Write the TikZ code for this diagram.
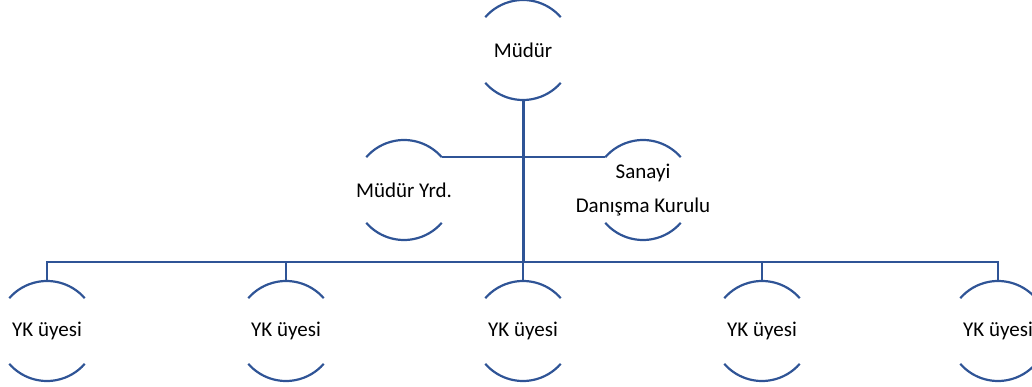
\documentclass[tikz,border=0pt]{standalone}
\usepackage{fontspec}
\setmainfont{Carlito}
\definecolor{orgblue}{RGB}{47,84,150}
\begin{document}
\begin{tikzpicture}[x=1pt,y=1pt,
  unit/.style={inner sep=0pt,outer sep=0pt,align=center,
    font=\fontsize{21}{34}\selectfont,text=black},
  link/.style={draw=orgblue,line width=2.2pt},
  trunk/.style={draw=orgblue,line width=3pt}]
\useasboundingbox[clip] (0,0) rectangle (1032,-387);
\node[unit] (m) at (523,-50) {Müdür};
\node[unit] (yrd) at (404,-190) {Müdür Yrd.};
\node[unit] (san) at (643,-190) {Sanayi\\Danışma Kurulu};
\node[unit] (k1) at (47,-331) {YK üyesi};
\node[unit] (k2) at (286,-331) {YK üyesi};
\node[unit] (k3) at (523,-331) {YK üyesi};
\node[unit] (k4) at (762,-331) {YK üyesi};
\node[unit] (k5) at (998,-331) {YK üyesi};
\foreach \n in {m,yrd,san,k1,k2,k3,k4,k5}{
  \draw[link] ([shift={(41:50)}]\n.center) arc[start angle=41,end angle=139,radius=50];
  \draw[link] ([shift={(221:50)}]\n.center) arc[start angle=221,end angle=319,radius=50];
  \coordinate (\n-top) at ([yshift=50]\n.center);
  \coordinate (\n-bot) at ([yshift=-50]\n.center);
}
\coordinate (bus) at (523,-262);
\draw[link] ([shift={(41:50)}]yrd.center) -- ([shift={(139:50)}]san.center);
\draw[link] (k1-top) |- (bus) -| (k5-top);
\foreach \n in {k2,k3,k4}{\draw[link] (\n-top) -- (\n-top |- bus);}
\draw[trunk] (m-bot) -- (m-bot |- bus);
\end{tikzpicture}
\end{document}
